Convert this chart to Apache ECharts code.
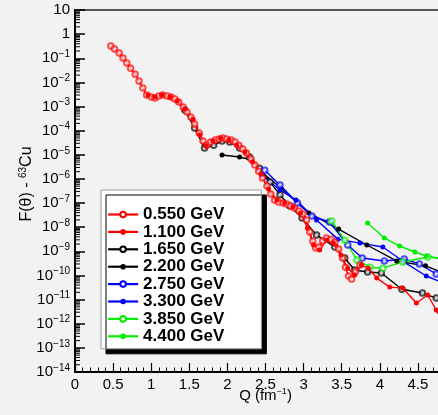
<!DOCTYPE html>
<html>
<head>
<meta charset="utf-8">
<script src="https://cdn.jsdelivr.net/npm/echarts@6/dist/echarts.min.js"></script>
<style>
  html, body { margin: 0; padding: 0; background: #f2f2f2; }
  #chart { width: 438px; height: 415px; }
</style>
</head>
<body>
<div id="chart"></div>
<script>
// Beam energies shown in the legend
const energies = ['0.550 GeV', '1.100 GeV', '1.650 GeV', '2.200 GeV',
                  '2.750 GeV', '3.300 GeV', '3.850 GeV', '4.400 GeV'];

// Tick labels
const xTickLabels = ['0', '0.5', '1', '1.5', '2', '2.5', '3', '3.5', '4', '4.5', '5'];
const yTickExponents = [1, 0, -1, -2, -3, -4, -5, -6, -7, -8, -9, -10, -11, -12, -13, -14];

// F(theta) for 63Cu versus Q (fm^-1), one list of [Q, F] per beam energy
const f0550 = [
  [0.47, 3.2e-1], [0.52, 2.4e-1], [0.58, 1.65e-1], [0.63, 1.03e-1], [0.68, 6.4e-2],
  [0.73, 3.9e-2], [0.79, 2.2e-2], [0.84, 1.14e-2], [0.89, 5.9e-3], [0.94, 3.0e-3],
  [1.00, 2.5e-3], [1.05, 2.25e-3], [1.10, 2.7e-3], [1.15, 3.0e-3], [1.21, 2.7e-3],
  [1.26, 2.5e-3], [1.31, 2.05e-3], [1.36, 1.54e-3], [1.42, 9.5e-4], [1.47, 5.9e-4],
  [1.52, 3.7e-4], [1.57, 1.9e-4], [1.63, 8.0e-5], [1.68, 3.7e-5], [1.73, 2.5e-5],
  [1.78, 3.4e-5], [1.84, 4.1e-5], [1.89, 4.5e-5], [1.94, 5.0e-5], [1.99, 4.5e-5],
  [2.05, 4.1e-5], [2.10, 3.4e-5], [2.15, 2.5e-5], [2.20, 1.74e-5], [2.25, 1.19e-5],
  [2.31, 6.7e-6], [2.36, 3.8e-6], [2.41, 2.1e-6], [2.46, 1.09e-6], [2.52, 5.1e-7],
  [2.57, 2.4e-7], [2.62, 1.34e-7], [2.67, 1.11e-7], [2.73, 1.0e-7], [2.78, 9.1e-8],
  [2.83, 7.6e-8], [2.88, 6.2e-8], [2.94, 4.7e-8], [2.99, 3.5e-8], [3.04, 2.0e-8],
  [3.08, 6.3e-9], [3.12, 2.7e-9], [3.16, 1.37e-9], [3.20, 1.51e-9], [3.25, 2.7e-9],
  [3.30, 3.6e-9], [3.36, 3.2e-9], [3.41, 2.4e-9], [3.46, 1.25e-9], [3.51, 5.3e-10],
  [3.55, 2.2e-10], [3.59, 9.5e-11], [3.63, 7.1e-11], [3.68, 1.39e-10], [3.74, 2.7e-10]
];
const f1100 = [
  [0.96, 3.0e-3], [1.05, 2.5e-3], [1.14, 3.0e-3], [1.25, 2.5e-3], [1.34, 1.7e-3],
  [1.44, 7.9e-4], [1.55, 3.0e-4], [1.64, 6.6e-5], [1.72, 2.3e-5], [1.81, 3.7e-5],
  [1.91, 5.0e-5], [2.02, 4.1e-5], [2.12, 2.5e-5], [2.23, 1.3e-5], [2.33, 5.0e-6],
  [2.44, 1.6e-6], [2.54, 3.8e-7], [2.65, 1.34e-7], [2.75, 1.0e-7], [2.86, 6.9e-8],
  [2.96, 3.9e-8], [3.05, 9.2e-9], [3.13, 1.83e-9], [3.21, 1.13e-9], [3.30, 2.9e-9],
  [3.39, 2.2e-9], [3.49, 7.0e-10], [3.58, 2.0e-10], [3.67, 1.04e-10], [3.76, 2.7e-10],
  [3.85, 2.0e-10], [3.96, 7.8e-11], [4.13, 3.3e-11], [4.30, 3.0e-11], [4.48, 7.2e-12],
  [4.63, 1.55e-11], [4.74, 3.7e-12], [4.88, 5.5e-13]
];
const f1650 = [
  [1.44, 7.2e-4], [1.57, 1.29e-4], [1.70, 1.91e-5], [1.82, 2.5e-5], [1.93, 3.7e-5],
  [2.03, 3.4e-5], [2.16, 1.91e-5], [2.29, 8.1e-6], [2.42, 2.8e-6], [2.56, 7.4e-7],
  [2.69, 2.2e-7], [2.82, 7.6e-8], [2.98, 2.4e-8], [3.17, 4.7e-9], [3.41, 1.51e-9],
  [3.54, 5.3e-10], [3.67, 1.68e-10], [3.84, 1.39e-10], [4.02, 1.26e-10], [4.29, 2.7e-11],
  [4.56, 1.87e-11], [4.74, 1.16e-11], [4.94, 7.2e-12]
];
const f2200 = [
  [1.93, 9.8e-6], [2.16, 8.1e-6], [2.32, 6.1e-6], [2.45, 1.94e-6], [2.70, 4.2e-7],
  [3.07, 3.9e-8], [3.46, 8.4e-9], [3.83, 1.83e-9], [4.22, 4.0e-10], [4.60, 2.5e-10],
  [4.91, 1.04e-10]
];
const f2750 = [
  [2.49, 2.3e-6], [2.69, 5.6e-7], [2.92, 1.0e-7], [3.11, 2.9e-8], [3.34, 1.64e-8],
  [3.58, 1.83e-9], [3.77, 5.3e-10], [4.06, 4.0e-10], [4.32, 4.8e-10], [4.52, 3.0e-10],
  [4.74, 1.15e-10], [4.94, 5.3e-11]
];
const f3300 = [
  [2.45, 1.45e-6], [2.69, 3.5e-7], [2.90, 1.34e-7], [3.17, 2.0e-8], [3.45, 3.2e-9],
  [3.74, 2.2e-9], [4.04, 1.51e-9], [4.32, 3.6e-10], [4.61, 9.5e-11], [4.91, 4.0e-11]
];
const f3850 = [
  [3.37, 1.8e-8], [3.54, 2.9e-9], [3.70, 4.4e-10], [3.87, 2.2e-10], [4.04, 2.0e-10],
  [4.30, 3.6e-10], [4.63, 5.8e-10], [4.85, 5.3e-10]
];
const f4400 = [
  [3.84, 1.49e-8], [4.06, 3.6e-9], [4.26, 1.66e-9], [4.46, 9.4e-10], [4.61, 6.4e-10],
  [4.85, 4.4e-10]
];

const seriesData = [f0550, f1100, f1650, f2200, f2750, f3300, f3850, f4400];
const seriesColors = ['#ff0000', '#ff0000', '#000000', '#000000',
                      '#0000ff', '#0000ff', '#00ee00', '#00ee00'];
// Red curves are drawn over the others at low Q
const seriesZ = [4, 4, 3, 3, 3, 3, 3, 3];

const FONT = '"Liberation Sans", Arial, sans-serif';

// Logarithmic minor tick positions (2..9 x 10^k) along the left axis
const minorYTicks = [];
for (let k = -14; k < 1; k++) {
  for (let m = 2; m <= 9; m++) minorYTicks.push([0, m * Math.pow(10, k)]);
}

const lineSeries = energies.map((name, i) => {
  const open = i % 2 === 0;
  return {
    name: name,
    type: 'line',
    data: seriesData[i],
    symbol: open ? 'emptyCircle' : 'circle',
    symbolSize: open ? 5.5 : 5,
    showSymbol: true,
    color: seriesColors[i],
    lineStyle: { color: seriesColors[i], width: 1.4 },
    itemStyle: { color: seriesColors[i], borderWidth: open ? 1 : 0, opacity: open ? 0.7 : 1 },
    emphasis: { disabled: true },
    animation: false,
    z: seriesZ[i]
  };
});

const chart = echarts.init(document.getElementById('chart'), null, { renderer: 'canvas' });

chart.setOption({
  backgroundColor: '#f2f2f2',
  animation: false,
  textStyle: { fontFamily: FONT },
  grid: {
    left: 75, top: 10, width: 381, height: 362,
    outerBoundsMode: 'none',
    containLabel: false,
    show: true, borderColor: '#555', borderWidth: 2, backgroundColor: 'transparent'
  },
  legend: {
    data: energies,
    orient: 'vertical',
    left: 101, top: 190,
    padding: [16, 37, 4, 6],
    itemWidth: 30, itemHeight: 7, itemGap: 0.4,
    backgroundColor: '#ffffff',
    borderColor: '#9a9a9a', borderWidth: 1,
    shadowColor: '#000', shadowBlur: 0, shadowOffsetX: 5, shadowOffsetY: 5,
    lineStyle: { width: 2.2 },
    itemStyle: { opacity: 1 },
    selectedMode: false,
    z: 10,
    textStyle: { fontFamily: FONT, fontWeight: 'bold', fontSize: 17, color: '#000' }
  },
  xAxis: {
    type: 'value', min: 0, max: 5, interval: 0.5,
    axisLine: { onZero: false, lineStyle: { color: '#000', width: 2 } },
    axisTick: { inside: true, length: 9, lineStyle: { color: '#000', width: 1.2 } },
    minorTick: { show: true, splitNumber: 5, length: 4.5, lineStyle: { color: '#000', width: 1 } },
    splitLine: { show: false },
    axisLabel: {
      fontFamily: FONT, fontSize: 15, color: '#000', margin: 5,
      formatter: v => xTickLabels[Math.round(v / 0.5)]
    },
    name: 'Q (fm{s|−1})',
    nameLocation: 'middle', nameGap: 15,
    nameMoveOverlap: false,
    nameTextStyle: {
      fontFamily: FONT, fontSize: 15, color: '#000', lineHeight: 18,
      rich: { s: { fontFamily: FONT, fontSize: 9, color: '#000', verticalAlign: 'top', lineHeight: 9 } }
    }
  },
  yAxis: {
    type: 'log', logBase: 10, min: 1e-14, max: 10, interval: 1,
    axisLine: { onZero: false, lineStyle: { color: '#000', width: 2 } },
    axisTick: { inside: true, length: 10, lineStyle: { color: '#000', width: 1.5 } },
    splitLine: { show: false },
    axisLabel: {
      fontFamily: FONT, fontSize: 15, color: '#000', margin: 5,
      formatter: v => {
        const e = Math.round(Math.log10(v));
        if (yTickExponents.indexOf(e) < 0) return '';
        if (e === 1) return '10';
        if (e === 0) return '1';
        return '10{s|−' + (-e) + '}';
      },
      rich: { s: { fontFamily: FONT, fontSize: 10, color: '#000', verticalAlign: 'top', lineHeight: 10 } },
      lineHeight: 18
    }
  },
  graphic: [{
    type: 'text',
    x: 27, y: 184,
    rotation: Math.PI / 2,
    style: {
      text: 'F(θ) - {s|63}Cu',
      font: '16px ' + FONT,
      fill: '#000',
      align: 'center', verticalAlign: 'middle',
      lineHeight: 18,
      rich: { s: { fontSize: 10, fontFamily: FONT, fill: '#000', verticalAlign: 'top', lineHeight: 10 } }
    }
  }],
  series: lineSeries.concat([{
    type: 'custom',
    name: 'minorTicks',
    silent: true,
    clip: false,
    data: minorYTicks,
    renderItem: (params, api) => {
      const p = api.coord([0, api.value(1)]);
      return {
        type: 'line',
        shape: { x1: p[0], y1: p[1], x2: p[0] + 5, y2: p[1] },
        style: { stroke: '#000', lineWidth: 1 }
      };
    },
    z: 5
  }])
});
</script>
</body>
</html>
